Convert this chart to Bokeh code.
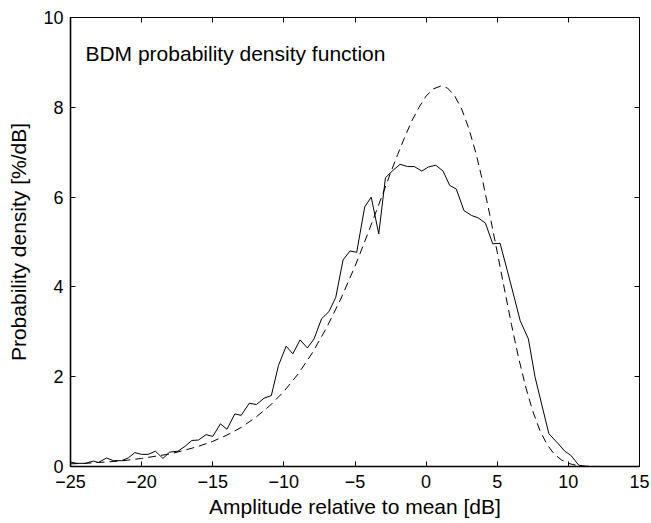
from bokeh.plotting import figure
from bokeh.models import LinearAxis, FixedTicker, Label, Range1d, CustomLabelingPolicy
from bokeh.embed import file_html
from bokeh.resources import INLINE

# ---- data ----
measured_x = [-25.0, -24.56, -23.97, -23.39, -23.04, -22.46, -21.99, -21.41, -20.94, -20.48,
              -20.01, -19.55, -19.03, -18.50, -18.03, -17.45, -16.94, -16.47, -16.00, -15.47,
              -15.00, -14.46, -14.00, -13.45, -13.00, -12.43, -11.93, -11.40, -10.88, -10.38,
              -9.84, -9.37, -8.86, -8.35, -7.88, -7.35, -6.83, -6.35, -5.84, -5.35,
              -4.88, -4.32, -3.86, -3.33, -2.86, -2.35, -1.83, -1.30, -0.83, -0.30,
              0.16, 0.68, 1.19, 1.66, 2.12, 2.66, 3.19, 3.65, 4.17, 4.68,
              5.20, 5.70, 6.20, 6.61, 7.19, 7.66, 8.15, 8.63, 9.28, 9.75,
              10.17, 10.73, 11.2, 12.0, 13.0, 14.0, 15.0]
measured_y = [0.10, 0.07, 0.07, 0.12, 0.09, 0.19, 0.13, 0.13, 0.19, 0.31,
              0.27, 0.27, 0.34, 0.18, 0.32, 0.34, 0.45, 0.58, 0.59, 0.71,
              0.67, 0.95, 0.83, 1.17, 1.14, 1.41, 1.38, 1.52, 1.58, 2.25,
              2.68, 2.51, 2.82, 2.64, 2.84, 3.29, 3.45, 3.77, 4.60, 4.80,
              4.77, 5.78, 6.00, 5.18, 6.43, 6.59, 6.73, 6.68, 6.68, 6.58,
              6.67, 6.71, 6.58, 6.26, 6.18, 5.70, 5.59, 5.54, 5.42, 4.96,
              4.97, 4.37, 3.76, 3.25, 2.84, 1.99, 1.35, 0.73, 0.51, 0.34,
              0.25, 0.03, 0.0, 0.0, 0.0, 0.0, 0.0]

theory_x = [-25, -24, -23, -22, -21, -20, -19, -18, -17, -16, -15, -14, -13, -12, -11,
            -10, -9, -8, -7, -6, -5, -4.5, -4, -3.5, -3, -2.5, -2, -1.5, -1, -0.5,
            0, 0.5, 1, 1.5, 2, 2.5, 3, 3.5, 4, 4.5, 5, 5.5, 6, 6.5, 7, 7.5,
            8, 8.5, 9, 9.5, 10, 10.5, 11, 12, 13, 14, 15]
theory_y = [0.06, 0.07, 0.09, 0.11, 0.14, 0.18, 0.23, 0.28, 0.36, 0.45, 0.56, 0.70, 0.87, 1.09, 1.35,
            1.67, 2.06, 2.53, 3.09, 3.73, 4.46, 4.86, 5.27, 5.69, 6.11, 6.54, 6.95, 7.34, 7.70, 8.00,
            8.25, 8.41, 8.47, 8.43, 8.26, 7.96, 7.53, 6.98, 6.32, 5.57, 4.77, 3.96, 3.16, 2.42, 1.77, 1.23,
            0.80, 0.49, 0.28, 0.15, 0.07, 0.03, 0.01, 0.0, 0.0, 0.0, 0.0]

x_ticks = [-25, -20, -15, -10, -5, 0, 5, 10, 15]
x_tick_labels = ["\u221225", "\u221220", "\u221215", "\u221210", "\u22125", "0", "5", "10", "15"]
y_ticks = [0, 2, 4, 6, 8, 10]
y_tick_labels = ["0", "2", "4", "6", "8", "10"]

x_label = "Amplitude relative to mean [dB]"
y_label = "Probability density [%/dB]"
title_text = "BDM probability density function"

FONT = "Liberation Sans"

p = figure(width=651, height=523, x_range=Range1d(-25, 15), y_range=Range1d(0, 10),
           output_backend="svg", toolbar_location=None,
           min_border_left=70, min_border_right=12, min_border_top=17, min_border_bottom=57)
p.grid.visible = False
p.outline_line_color = "black"
p.outline_line_width = 1
p.background_fill_color = "white"
p.border_fill_color = "white"

no_labels = CustomLabelingPolicy(code="""
    for (const i of indices) indices.unset(i)
    return indices
""")

def style_axis(ax, ticks, labels, show_labels=True, width=1):
    ax.ticker = FixedTicker(ticks=ticks)
    ax.major_tick_in = 5
    ax.major_tick_out = 0
    ax.minor_tick_in = 0
    ax.minor_tick_out = 0
    ax.axis_line_color = "black"
    ax.major_tick_line_color = "black"
    ax.axis_line_width = width
    ax.major_label_text_font = FONT
    ax.major_label_text_color = "black"
    if show_labels:
        ax.major_label_overrides = {t: l for t, l in zip(ticks, labels)}
        ax.major_label_text_font_size = "18px"
    else:
        ax.major_label_policy = no_labels
        ax.major_label_text_font_size = "2px"
        ax.major_label_standoff = 0

style_axis(p.xaxis[0], x_ticks, x_tick_labels, width=1.6)
style_axis(p.yaxis[0], y_ticks, y_tick_labels, width=1.6)
p.xaxis[0].major_label_standoff = 8
p.yaxis[0].major_label_standoff = 7
p.xaxis[0].axis_label = x_label
p.yaxis[0].axis_label = y_label
for ax in (p.xaxis[0], p.yaxis[0]):
    ax.axis_label_text_font = FONT
    ax.axis_label_text_font_size = "21px"
    ax.axis_label_text_font_style = "normal"
    ax.axis_label_text_color = "black"
p.xaxis[0].axis_label_standoff = 4
p.yaxis[0].axis_label_standoff = 10

top = LinearAxis()
style_axis(top, x_ticks, x_tick_labels, show_labels=False)
p.add_layout(top, "above")
right = LinearAxis()
style_axis(right, y_ticks, y_tick_labels, show_labels=False)
p.add_layout(right, "right")

p.line(theory_x, theory_y, line_color="black", line_width=1, line_dash="8 5")
p.line(measured_x, measured_y, line_color="black", line_width=1)

p.add_layout(Label(x=-23.95, y=9.2, text=title_text, text_font=FONT, text_font_size="21px",
                   text_color="black", text_baseline="alphabetic", text_align="left"))

open("out.html", "w").write(file_html(p, INLINE))
